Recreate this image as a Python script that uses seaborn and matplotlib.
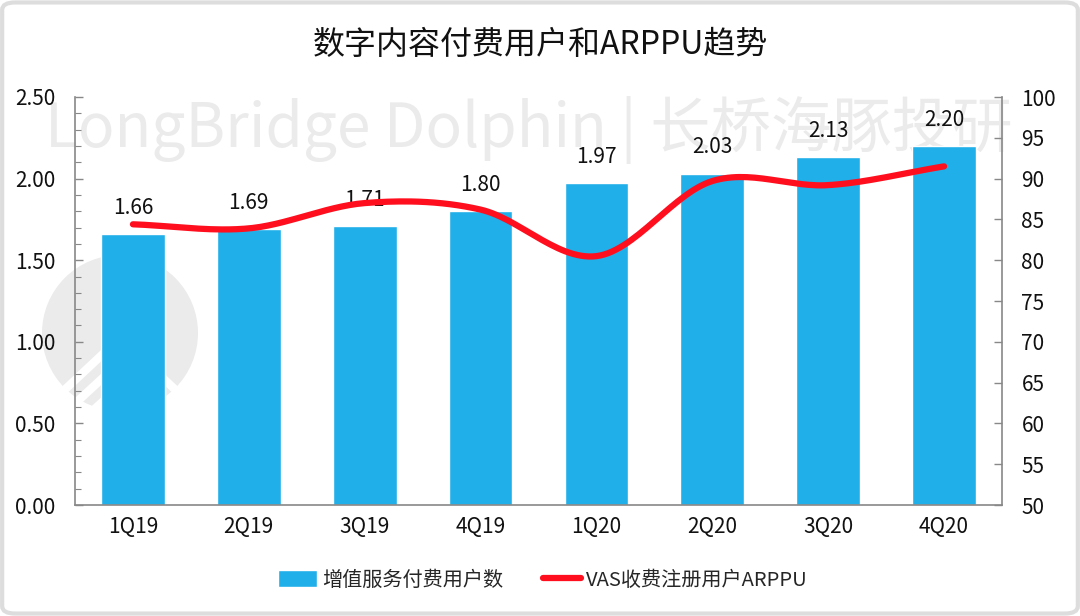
import numpy as np
import pandas as pd
import matplotlib
matplotlib.use("Agg")
import matplotlib.pyplot as plt
import seaborn as sns
from matplotlib.patches import Ellipse, FancyBboxPatch
from matplotlib.ticker import MultipleLocator, FormatStrFormatter

# ========== DATA ==========
quarters = ["1Q19", "2Q19", "3Q19", "4Q19", "1Q20", "2Q20", "3Q20", "4Q20"]
paid_users = [1.66, 1.69, 1.71, 1.80, 1.97, 2.03, 2.13, 2.20]
arppu = [84.4, 83.9, 87.0, 86.2, 80.5, 89.7, 89.2, 91.5]

title = "数字内容付费用户和ARPPU趋势"
bar_label = "增值服务付费用户数"
line_label = "VAS收费注册用户ARPPU"

BAR_COLOR = "#21AFEA"
LINE_COLOR = "#FF0F1E"
WM_COLOR = "#EBEBEB"
W, H = 1080, 616


def catmull_rom(x, y, n=30):
    # smooth path through the points, similar to excel "smoothed line"
    x = np.asarray(x, float)
    y = np.asarray(y, float)
    px = np.concatenate([[2 * x[0] - x[1]], x, [2 * x[-1] - x[-2]]])
    py = np.concatenate([[2 * y[0] - y[1]], y, [2 * y[-1] - y[-2]]])
    xs, ys = [], []
    for i in range(1, len(px) - 2):
        t = np.linspace(0, 1, n, endpoint=False)
        for p, out in ((px, xs), (py, ys)):
            p0, p1, p2, p3 = p[i - 1], p[i], p[i + 1], p[i + 2]
            out.extend(0.5 * ((2 * p1) + (-p0 + p2) * t
                              + (2 * p0 - 5 * p1 + 4 * p2 - p3) * t ** 2
                              + (-p0 + 3 * p1 - 3 * p2 + p3) * t ** 3))
    xs.append(x[-1])
    ys.append(y[-1])
    return np.array(xs), np.array(ys)


# ========== PLOT ==========
sns.set_theme(style="white")
plt.rcParams["font.family"] = ["Noto Sans CJK SC", "DejaVu Sans"]
plt.rcParams["axes.unicode_minus"] = False

fig = plt.figure(figsize=(W / 100, H / 100), dpi=100)
fig.patch.set_facecolor("white")

# outer rounded frame
frame = FancyBboxPatch((0.002, 0.004), 0.996, 0.992, boxstyle="round,pad=0,rounding_size=0.012",
                       transform=fig.transFigure, facecolor="none", edgecolor="#DDDDDD", linewidth=3)
fig.patches.append(frame)

# watermark (text + round logo), behind everything
fig.text(529 / W, 1 - 130 / H, "LongBridge Dolphin | 长桥海豚投研", fontsize=43.5, color=WM_COLOR,
         ha="center", va="center", zorder=-5)
r = 78
cx, cy = 120, 333
fig.patches.append(Ellipse((cx / W, 1 - cy / H), 2 * r / W, 2 * r / H, transform=fig.transFigure,
                           facecolor=WM_COLOR, edgecolor="none", zorder=-5))
# white chevron stripes of the logo
for off in (0, 24, 48):
    top = cy + 5 + off
    xs_c = [(cx - 62 + off * 0.4) / W, cx / W, (cx + 62 - off * 0.4) / W]
    ys_c = [1 - (top + 58 - off * 0.4) / H, 1 - top / H, 1 - (top + 58 - off * 0.4) / H]
    fig.lines.append(plt.Line2D(xs_c, ys_c, transform=fig.transFigure, color="white",
                                linewidth=6, zorder=-4))

ax = fig.add_axes([75 / W, 1 - 505 / H, 927 / W, 408 / H])
ax.patch.set_alpha(0)
ax.set_zorder(1)

df = pd.DataFrame({"quarter": quarters, "users": paid_users})
sns.barplot(data=df, x="quarter", y="users", color=BAR_COLOR, width=0.55,
            saturation=1, ax=ax, label=bar_label, zorder=2)
if ax.get_legend() is not None:
    ax.get_legend().remove()

for i, v in enumerate(paid_users):
    ax.annotate(f"{v:.2f}", (i, v), xytext=(0, 11), textcoords="offset points",
                ha="center", va="bottom", fontsize=15, color="#111111")

ax.set_xlim(-0.5, len(quarters) - 0.5)
ax.set_ylim(0, 2.5)
ax.yaxis.set_major_locator(MultipleLocator(0.5))
ax.yaxis.set_minor_locator(MultipleLocator(0.1))
ax.yaxis.set_major_formatter(FormatStrFormatter("%.2f"))
ax.set_xlabel("")
ax.set_ylabel("")

ax2 = ax.twinx()
xs, ys = catmull_rom(np.arange(len(arppu)), arppu)
ax2.plot(xs, ys, color=LINE_COLOR, linewidth=4.5, solid_capstyle="round",
         label=line_label, zorder=3)
ax2.set_ylim(50, 100)
ax2.yaxis.set_major_locator(MultipleLocator(5))

for a in (ax, ax2):
    for s in a.spines.values():
        s.set_color("#888888")
        s.set_linewidth(1.2)
    a.spines["top"].set_visible(False)
ax.spines["right"].set_visible(False)
ax2.spines["left"].set_visible(False)
ax2.spines["bottom"].set_visible(False)

ax.tick_params(axis="y", which="major", direction="in", length=6, width=1, color="#888888",
               labelsize=15, labelcolor="#111111", pad=14, left=True)
ax.tick_params(axis="y", which="minor", direction="in", length=4, width=0.8, color="#888888", left=True)
ax.tick_params(axis="x", length=0, labelsize=15, labelcolor="#111111", pad=8)
ax2.tick_params(axis="y", direction="in", length=6, width=1, color="#888888",
                labelsize=15, labelcolor="#111111", pad=14, right=True)

fig.text(0.5, 1 - 45 / H, title, fontsize=23, ha="center", va="center", color="#111111")

h1, l1 = ax.get_legend_handles_labels()
h2, l2 = ax2.get_legend_handles_labels()
fig.legend(h1 + h2, l1 + l2, loc="center", bbox_to_anchor=(0.503, 1 - 580 / H), ncol=2,
           frameon=False, fontsize=14.5, handlelength=1.9, handleheight=0.9,
           columnspacing=2.0, handletextpad=0.25)

fig.savefig("out.png", dpi=100)
